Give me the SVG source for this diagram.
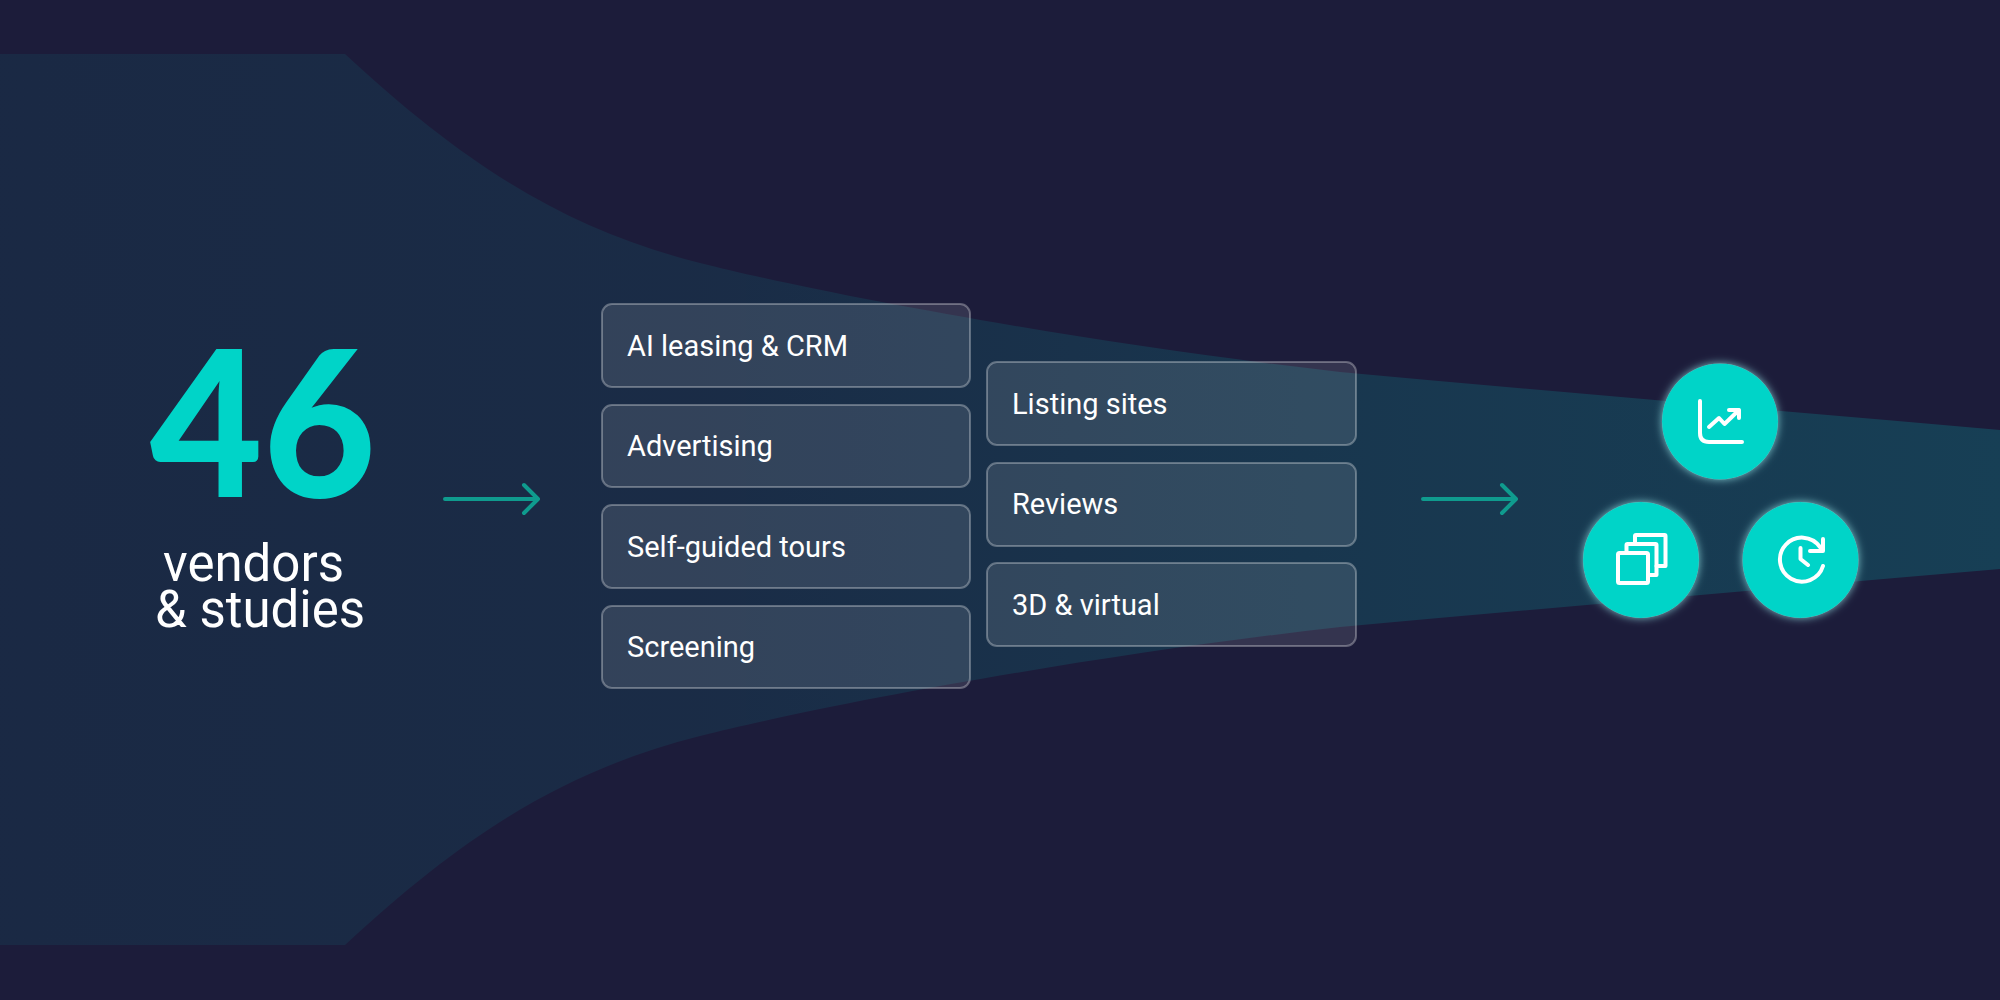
<svg xmlns="http://www.w3.org/2000/svg" width="2000" height="1000" viewBox="0 0 2000 1000">
<defs>
<linearGradient id="fun" x1="0" x2="1" y1="0" y2="0"><stop offset="0" stop-color="#00d4c8" stop-opacity="0.07"/><stop offset="0.35" stop-color="#00d4c8" stop-opacity="0.085"/><stop offset="0.7" stop-color="#00d4c8" stop-opacity="0.15"/><stop offset="1" stop-color="#00d4c8" stop-opacity="0.19"/></linearGradient>
<filter id="glow" x="-30%" y="-30%" width="160%" height="160%"><feDropShadow dx="0" dy="0" stdDeviation="4" flood-color="#aff" flood-opacity="0.7"/></filter>
</defs>
<style>
.box{fill:#fff;fill-opacity:.11;stroke:#fff;stroke-opacity:.3;stroke-width:2}
.lbl{font-family:Roboto,"Liberation Sans",sans-serif;font-size:29px;fill:#fff}
.big{font-family:Roboto,"Liberation Sans",sans-serif;font-size:51px;fill:#fff}
.num{font-family:Lato,"Liberation Sans",sans-serif;font-weight:900;font-size:204px;fill:#00d4c8}
.arr{fill:none;stroke:#0f9b8e;stroke-width:4;stroke-linecap:round;stroke-linejoin:round}
.ic{fill:none;stroke:#fff;stroke-width:4;stroke-linecap:round;stroke-linejoin:round}
.c{fill:#00d4c8;filter:url(#glow)}
</style>
<rect width="2000" height="1000" fill="#1c1c3a"/>
<path id="funnel" fill="url(#fun)" d="M0 54H345C470 170 570 230 700 263C830 296 1100 345 1340 372C1560 392 1780 411 2000 430V569C1780 588 1560 607 1340 627C1100 654 830 703 700 736C570 769 470 829 345 945H0Z"/>
<g id="stat">
<text class="num" transform="translate(150 497) scale(.955 1)">46</text>
<text class="big" x="163" y="581">vendors</text>
<text class="big" x="155" y="627">&amp; studies</text>
</g>
<g id="connectors">
<path class="arr" d="M445 499H537M524 485L538 499L524 513"/>
<path class="arr" d="M1423 499H1515M1502 485L1516 499L1502 513"/>
</g>
<g id="n1"><rect class="box" x="602" y="304" width="368" height="83" rx="10"/><text class="lbl" x="627" y="356">AI leasing &amp; CRM</text></g>
<g id="n2"><rect class="box" x="602" y="405" width="368" height="82" rx="10"/><text class="lbl" x="627" y="456">Advertising</text></g>
<g id="n3"><rect class="box" x="602" y="505" width="368" height="83" rx="10"/><text class="lbl" x="627" y="557">Self-guided tours</text></g>
<g id="n4"><rect class="box" x="602" y="606" width="368" height="82" rx="10"/><text class="lbl" x="627" y="657">Screening</text></g>
<g id="n5"><rect class="box" x="987" y="362" width="369" height="83" rx="10"/><text class="lbl" x="1012" y="414">Listing sites</text></g>
<g id="n6"><rect class="box" x="987" y="463" width="369" height="83" rx="10"/><text class="lbl" x="1012" y="514">Reviews</text></g>
<g id="n7"><rect class="box" x="987" y="563" width="369" height="83" rx="10"/><text class="lbl" x="1012" y="615">3D &amp; virtual</text></g>
<g id="icon-chart"><circle class="c" cx="1720" cy="421.500" r="58"/>
<path class="ic" d="M1700 401V433Q1700 442 1709 442H1742"/><path class="ic" d="M1709 427L1719 418L1724.500 424L1739 410M1729 410H1739V418"/>
</g>
<g id="icon-stack"><circle class="c" cx="1641" cy="560" r="58"/>
<rect class="ic" x="1618" y="553" width="30" height="30" rx="1.500"/><path class="ic" d="M1626.500 553V545Q1626.500 544 1627.500 544H1655.500Q1656.500 544 1656.500 545V575H1648"/><path class="ic" d="M1635 544V536Q1635 535 1636 535H1664.500Q1665.500 535 1665.500 536V566H1656.500"/>
</g>
<g id="icon-clock"><circle class="c" cx="1800.500" cy="560" r="58"/>
<path class="ic" d="M1823 566A22 22 0 1 1 1820 547M1823 539V551H1810M1800.500 548V559L1808 565"/>
</g>
</svg>
